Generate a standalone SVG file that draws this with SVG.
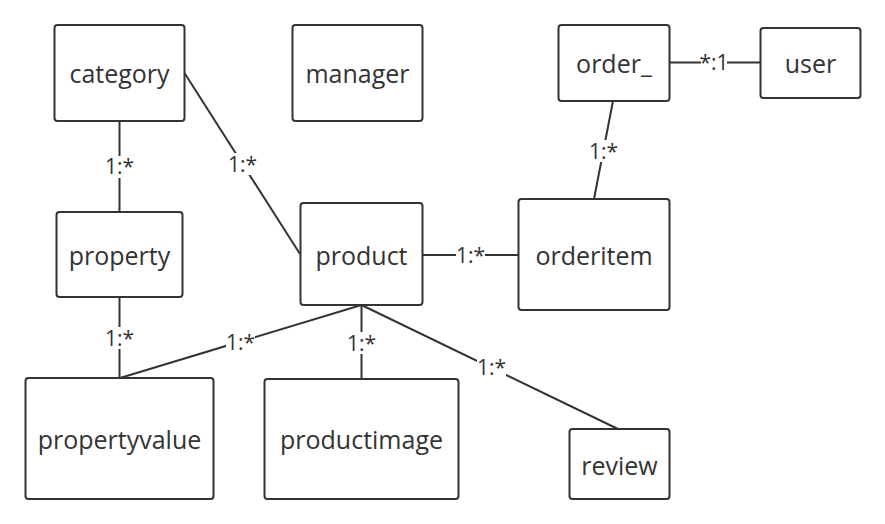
<svg xmlns="http://www.w3.org/2000/svg" width="885" height="524" viewBox="0 0 885 524">
<style>
.box{fill:#ffffff;stroke:#333333;stroke-width:2}
.name{font-family:"Open Sans","Noto Sans",sans-serif;font-size:25px;fill:#333333;text-anchor:middle}
.edge{stroke:#333333;stroke-width:2;fill:none}
.lbg{fill:#ffffff}
.lbl{font-family:"Open Sans","Noto Sans",sans-serif;font-size:21px;fill:#333333;text-anchor:middle}
</style>
<rect width="885" height="524" fill="#ffffff"/>
<g id="connectors">
<line class="edge" x1="119.5" y1="121" x2="119.5" y2="212"/>
<line class="edge" x1="184.5" y1="73" x2="300" y2="254"/>
<line class="edge" x1="613" y1="101" x2="594" y2="199"/>
<line class="edge" x1="669" y1="62.5" x2="760" y2="62.5"/>
<line class="edge" x1="422" y1="255" x2="518" y2="255"/>
<line class="edge" x1="119.5" y1="297" x2="119.5" y2="378"/>
<line class="edge" x1="361.5" y1="305" x2="120" y2="378"/>
<line class="edge" x1="361.5" y1="305" x2="361.5" y2="379"/>
<line class="edge" x1="361.5" y1="305" x2="618" y2="429"/>
<g id="labels">
<rect class="lbg" x="105" y="156" width="29" height="22"/>
<text class="lbl" x="119.5" y="174">1:*</text>
<rect class="lbg" x="228" y="153" width="29" height="22"/>
<text class="lbl" x="242.5" y="171.5">1:*</text>
<rect class="lbg" x="589" y="140" width="29" height="22"/>
<text class="lbl" x="603.5" y="158.5">1:*</text>
<rect class="lbg" x="701" y="52" width="26" height="22"/>
<text class="lbl" x="714" y="70">*:1</text>
<rect class="lbg" x="456" y="244" width="29" height="22"/>
<text class="lbl" x="470.5" y="262.5">1:*</text>
<rect class="lbg" x="105" y="327" width="29" height="22"/>
<text class="lbl" x="119.5" y="345.5">1:*</text>
<rect class="lbg" x="226" y="331" width="29" height="22"/>
<text class="lbl" x="240.5" y="349.5">1:*</text>
<rect class="lbg" x="347" y="332" width="29" height="22"/>
<text class="lbl" x="361.5" y="350.5">1:*</text>
<rect class="lbg" x="477" y="356" width="29" height="22"/>
<text class="lbl" x="491.5" y="374.5">1:*</text>
</g>
</g>
<g id="category"><rect class="box" x="54.5" y="25" width="130" height="96" rx="3"/><text class="name" x="119.5" y="83">category</text></g>
<g id="manager"><rect class="box" x="292.5" y="25" width="130" height="96" rx="3"/><text class="name" x="357.5" y="83">manager</text></g>
<g id="order_"><rect class="box" x="558.5" y="25" width="111" height="76" rx="3"/><text class="name" x="614" y="73">order_</text></g>
<g id="user"><rect class="box" x="760.5" y="28" width="100" height="70" rx="3"/><text class="name" x="810.5" y="73">user</text></g>
<g id="property"><rect class="box" x="56.5" y="212" width="126" height="85" rx="3"/><text class="name" x="119.5" y="264.5">property</text></g>
<g id="product"><rect class="box" x="300.5" y="203" width="122" height="102" rx="3"/><text class="name" x="361.5" y="264.5">product</text></g>
<g id="orderitem"><rect class="box" x="518.5" y="199" width="151" height="111" rx="3"/><text class="name" x="594" y="264.5">orderitem</text></g>
<g id="propertyvalue"><rect class="box" x="25.5" y="378" width="188" height="121" rx="3"/><text class="name" x="119.5" y="449">propertyvalue</text></g>
<g id="productimage"><rect class="box" x="264.5" y="379" width="194" height="120" rx="3"/><text class="name" x="361.5" y="449">productimage</text></g>
<g id="review"><rect class="box" x="569.5" y="429" width="100" height="70" rx="3"/><text class="name" x="619.5" y="474.5">review</text></g>
</svg>
